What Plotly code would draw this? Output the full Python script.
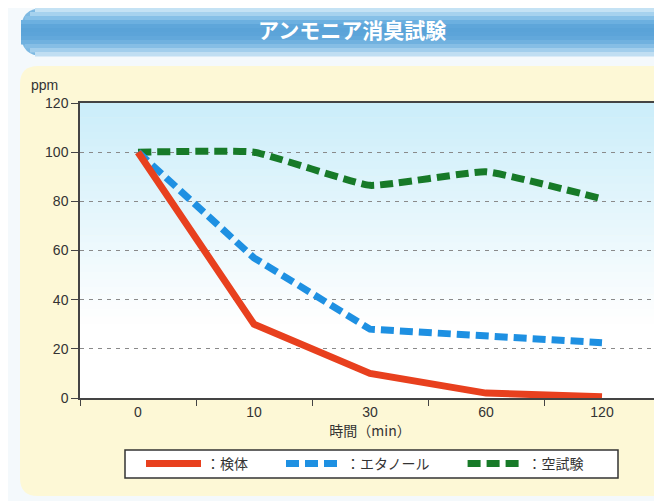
import plotly.graph_objects as go

# ---- data ----
categories = ["0", "10", "30", "60", "120"]
sample_vals = [100, 30, 10, 2, 0.5]        # 検体
ethanol_vals = [100, 57, 28, 25, 22.5]     # エタノール
blank_vals = [100, 100, 86.5, 92, 81]      # 空試験
y_ticks = [0, 20, 40, 60, 80, 100, 120]

OFF = 8  # page body margin
W, H = 662 - OFF, 501 - OFF
L, R, T, B = 80 - OFF, 2, 103 - OFF, 501 - 398
PW, PH = W - L - R, H - T - B
JP = "Noto Sans CJK JP"
NUM = "Liberation Sans, Arial, sans-serif"


def px(x):
    return (x - OFF - L) / PW


def py(y):
    return (H - B - (y - OFF)) / PH


def rrect(x0, y0, x1, y1, r):
    pts = [
        f"M {px(x0 + r)} {py(y0)}",
        f"L {px(x1 - r)} {py(y0)}",
        f"Q {px(x1)} {py(y0)} {px(x1)} {py(y0 + r)}",
        f"L {px(x1)} {py(y1 - r)}",
        f"Q {px(x1)} {py(y1)} {px(x1 - r)} {py(y1)}",
        f"L {px(x0 + r)} {py(y1)}",
        f"Q {px(x0)} {py(y1)} {px(x0)} {py(y1 - r)}",
        f"L {px(x0)} {py(y0 + r)}",
        f"Q {px(x0)} {py(y0)} {px(x0 + r)} {py(y0)}",
        "Z",
    ]
    return " ".join(pts)


shapes = []
# cream panel
shapes.append(dict(type="path", xref="paper", yref="paper", layer="below",
                   path=rrect(20, 66, 720, 496, 18),
                   fillcolor="#FDF8D6", line=dict(width=0)))
# banner: rounded base + horizontal gradient strips
y0b, y1b = 8, 56
shapes.append(dict(type="path", xref="paper", yref="paper", layer="below",
                   path=rrect(21, y0b, 760, y1b, 22),
                   fillcolor="#7DB9E2", line=dict(width=0)))
banner_cols = ["#C4E2F4", "#A6D2EE", "#86C0E7", "#6CB0E0", "#5EA6DA", "#5AA3D8",
               "#5CA4D9", "#62A8DB", "#70B1DF", "#86BEE5", "#A2CEEC", "#C0DEF2"]
nb = len(banner_cols)
hb = (y1b - y0b) / nb
for i, c in enumerate(banner_cols):
    ya = y0b + i * hb
    yb = ya + hb + 0.5
    edge = min(i, nb - 1 - i)
    xl = 21 + max(0, 14 - edge * 5)
    shapes.append(dict(type="rect", xref="paper", yref="paper", layer="below",
                       x0=px(xl), x1=px(760), y0=py(yb), y1=py(ya),
                       fillcolor=c, line=dict(width=0)))
# plot-area gradient (light blue -> white)
strips = 40
for i in range(strips):
    t = i / (strips - 1)
    k = min(1.0, t / 0.75)
    r_ = int(204 + (255 - 204) * k)
    g_ = int(238 + (255 - 238) * k)
    b_ = int(250 + (255 - 250) * k)
    shapes.append(dict(type="rect", xref="paper", yref="paper", layer="below",
                       x0=0, x1=1, y0=1 - (i + 1) / strips, y1=1 - i / strips + 0.002,
                       fillcolor=f"rgb({r_},{g_},{b_})", line=dict(width=0)))
# legend frame
shapes.append(dict(type="rect", xref="paper", yref="paper", layer="below",
                   x0=px(125), x1=px(618), y0=py(478), y1=py(450),
                   fillcolor="white", line=dict(color="#333333", width=1.5)))

fig = go.Figure()
fig.add_trace(go.Scatter(x=categories, y=blank_vals, mode="lines", name="：空試験",
                         line=dict(color="#177A28", width=7, dash="13px,6px", shape="spline", smoothing=0.35),
                         legendrank=3))
fig.add_trace(go.Scatter(x=categories, y=ethanol_vals, mode="lines", name="：エタノール　　",
                         line=dict(color="#1E90E2", width=7, dash="13px,6px"),
                         legendrank=2))
fig.add_trace(go.Scatter(x=categories, y=sample_vals, mode="lines", name="：検体　　",
                         line=dict(color="#E8401E", width=7),
                         legendrank=1))

fig.update_layout(
    width=W, height=H,
    margin=dict(l=L, r=R, t=T, b=B, autoexpand=False),
    paper_bgcolor="#F4F9FC",
    plot_bgcolor="rgba(0,0,0,0)",
    font=dict(family=JP, size=13, color="#333333"),
    shapes=shapes,
    showlegend=True,
    legend=dict(orientation="h", x=px(141), xanchor="left", y=py(464), yanchor="middle",
                bgcolor="rgba(0,0,0,0)", borderwidth=0,
                font=dict(family=JP, size=14, color="#333333"),
                itemwidth=55, traceorder="normal"),
    annotations=[
        dict(text="<b>アンモニア消臭試験</b>", xref="paper", yref="paper", x=px(352), y=py(29),
             xanchor="center", yanchor="middle", showarrow=False,
             font=dict(family=JP, size=21, color="white")),
        dict(text="ppm", xref="paper", yref="paper", x=px(44), y=py(85),
             xanchor="center", yanchor="middle", showarrow=False,
             font=dict(family=NUM, size=14, color="#333333")),
    ],
)
fig.update_xaxes(type="category", categoryorder="array", categoryarray=categories,
                 range=[-0.5, 4.5], tickson="boundaries", ticks="outside", ticklen=6,
                 tickcolor="#444444", showline=True, linecolor="#444444", linewidth=1.5,
                 mirror=True, showgrid=False,
                 title=dict(text="時間（min）", standoff=4, font=dict(family=JP, size=14)),
                 tickfont=dict(family=NUM, size=14))
fig.update_yaxes(range=[0, 120], tickvals=y_ticks, ticks="outside", ticklen=7,
                 tickcolor="#444444", showline=True, linecolor="#444444", linewidth=1.5,
                 mirror=True, showgrid=True, gridcolor="#8A8A8A", griddash="4px,5px",
                 gridwidth=1, zeroline=False, tickfont=dict(family=NUM, size=14))

fig.write_html("out.html")
